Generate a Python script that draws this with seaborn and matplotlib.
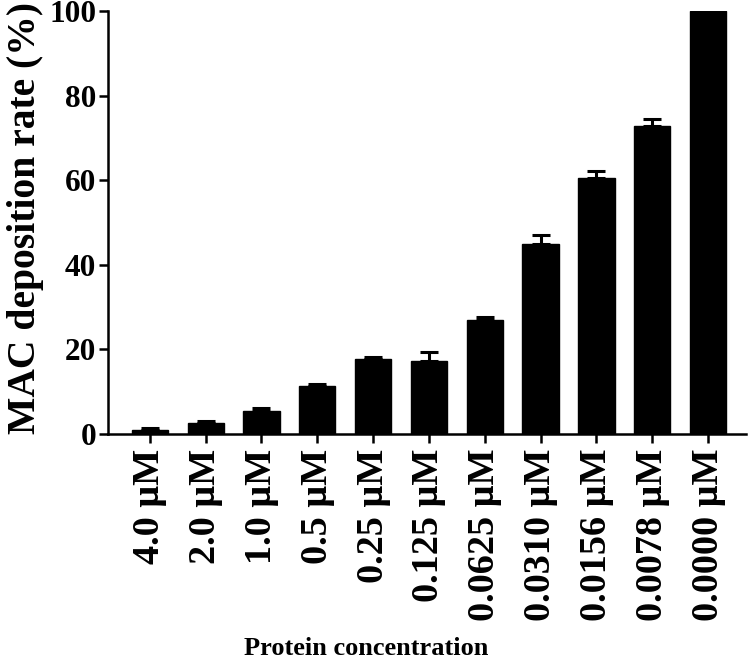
"""
MAC deposition rate vs protein concentration (bar chart with SD error bars)
"""

import matplotlib
matplotlib.use("Agg")
import matplotlib.pyplot as plt
import seaborn as sns
import pandas as pd
import numpy as np

# values
concentrations = ["4.0 μM", "2.0 μM", "1.0 μM", "0.5 μM", "0.25 μM", "0.125 μM",
                  "0.0625 μM", "0.0310 μM", "0.0156 μM", "0.0078 μM", "0.0000 μM"]
deposition = [1.0, 2.5, 5.5, 11.3, 17.7, 17.3, 27.0, 44.8, 60.6, 72.9, 100.0]
error_up = [0.5, 0.5, 0.6, 0.5, 0.6, 2.1, 0.7, 2.3, 1.6, 1.6, 0.0]

df = pd.DataFrame({"conc": concentrations, "rate": deposition})

sns.set_style("ticks", {"axes.edgecolor": "black", "text.color": "black",
                        "axes.labelcolor": "black", "xtick.color": "black",
                        "ytick.color": "black"})
plt.rcParams["font.family"] = ["Liberation Serif", "DejaVu Serif"]
plt.rcParams["font.weight"] = "bold"

fig = plt.figure(figsize=(7.5, 6.65), dpi=100)
ax = fig.add_axes([108 / 750, (665 - 434) / 665, (746 - 108) / 750, 423 / 665])

sns.barplot(data=df, x="conc", y="rate", color="black", edgecolor="black",
            width=0.65, ax=ax)

# upward-only error bars
x_pos = np.arange(len(concentrations))
ax.errorbar(x_pos, deposition, yerr=[np.zeros(len(error_up)), error_up],
            fmt="none", ecolor="black", elinewidth=2.2, capsize=6.5, capthick=2.2)

ax.set_ylim(0, 100)
ax.set_xlim(-0.75, len(concentrations) - 1 + 0.68)
ax.set_yticks([0, 20, 40, 60, 80, 100])

for side in ["top", "right"]:
    ax.spines[side].set_visible(False)
for side in ["left", "bottom"]:
    ax.spines[side].set_linewidth(1.8)
    ax.spines[side].set_color("black")

ax.tick_params(axis="both", width=1.8, length=6.5, colors="black")
ax.tick_params(axis="y", labelsize=22.5, pad=2)
ax.tick_params(axis="x", labelsize=27.5, pad=4)
for lab in ax.get_xticklabels():
    lab.set_fontweight("bold")
    lab.set_rotation(90)
for lab in ax.get_yticklabels():
    lab.set_fontweight("bold")

ax.set_xlabel("Protein concentration", fontsize=19, fontweight="bold", color="black")
ax.set_ylabel("MAC deposition rate (%)", fontsize=28.5, fontweight="bold", color="black")
ax.xaxis.set_label_coords(0.404, -0.48)
ax.yaxis.set_label_coords(-0.1, 0.51)

fig.savefig("out.png", dpi=100)
plt.close(fig)
